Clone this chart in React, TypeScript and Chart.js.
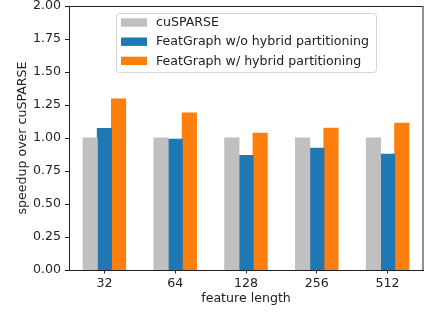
import React, { useEffect, useRef } from "react";
import { Chart, registerables } from "chart.js";

Chart.register(...registerables);

const categories = ["32", "64", "128", "256", "512"];
const cusparse = [1.0, 1.0, 1.0, 1.0, 1.0];
const withoutHybrid = [1.072, 0.99, 0.868, 0.922, 0.876];
const withHybrid = [1.295, 1.19, 1.036, 1.074, 1.112];
const seriesLabels = [
  "cuSPARSE",
  "FeatGraph w/o hybrid partitioning",
  "FeatGraph w/ hybrid partitioning",
];
const seriesColors = ["#c0c0c0", "#1f77b4", "#ff7f0e"];
const yTicks = [0, 0.25, 0.5, 0.75, 1.0, 1.25, 1.5, 1.75, 2.0];

const FONT = "DejaVu Sans";
const FS = 12.6;

const framePlugin = {
  id: "frame",
  afterDraw(chart: any) {
    const { ctx, chartArea } = chart;
    ctx.save();
    ctx.strokeStyle = "#222";
    ctx.lineWidth = 1;
    ctx.strokeRect(
      Math.round(chartArea.left) + 0.5,
      Math.round(chartArea.top) + 0.5,
      Math.round(chartArea.right - chartArea.left) - 0.5,
      Math.round(chartArea.bottom - chartArea.top)
    );
    ctx.restore();
  },
};

const legendPlugin = {
  id: "mplLegend",
  afterDraw(chart: any) {
    const { ctx } = chart;
    const x0 = 116;
    const y0 = 13;
    const w = 260;
    const h = 59;
    ctx.save();
    ctx.fillStyle = "rgba(255,255,255,0.8)";
    ctx.strokeStyle = "#d6d6d6";
    ctx.lineWidth = 1;
    ctx.beginPath();
    const r = 3;
    ctx.moveTo(x0 + r + 0.5, y0 + 0.5);
    ctx.arcTo(x0 + w + 0.5, y0 + 0.5, x0 + w + 0.5, y0 + h + 0.5, r);
    ctx.arcTo(x0 + w + 0.5, y0 + h + 0.5, x0 + 0.5, y0 + h + 0.5, r);
    ctx.arcTo(x0 + 0.5, y0 + h + 0.5, x0 + 0.5, y0 + 0.5, r);
    ctx.arcTo(x0 + 0.5, y0 + 0.5, x0 + w + 0.5, y0 + 0.5, r);
    ctx.closePath();
    ctx.fill();
    ctx.stroke();
    ctx.font = `${FS}px "${FONT}"`;
    ctx.textBaseline = "middle";
    ctx.textAlign = "left";
    chart.data.datasets.forEach((ds: any, i: number) => {
      const cy = 22.5 + i * 19.2;
      ctx.fillStyle = ds.backgroundColor;
      ctx.fillRect(121, cy - 4.2, 26, 8.4);
      ctx.fillStyle = "#222";
      ctx.fillText(ds.label, 156, cy + 0.5);
    });
    ctx.restore();
  },
};

export default function App() {
  const ref = useRef<HTMLCanvasElement | null>(null);
  useEffect(() => {
    if (!ref.current) return;
    const chart = new Chart(ref.current, {
      type: "bar",
      data: {
        labels: categories,
        datasets: [
          { label: seriesLabels[0], data: cusparse, backgroundColor: seriesColors[0] },
          { label: seriesLabels[1], data: withoutHybrid, backgroundColor: seriesColors[1] },
          { label: seriesLabels[2], data: withHybrid, backgroundColor: seriesColors[2] },
        ],
      },
      options: {
        responsive: false,
        animation: false,
        devicePixelRatio: 1,
        datasets: {
          bar: { categoryPercentage: 0.6, barPercentage: 1.0, borderWidth: 0, inflateAmount: 0.5 },
        },
        layout: { padding: { top: 0, right: 15, left: 0, bottom: 0 } },
        plugins: {
          legend: { display: false },
          tooltip: { enabled: false },
        },
        scales: {
          x: {
            offset: true,
            grid: {
              offset: false,
              drawOnChartArea: false,
              drawTicks: true,
              tickLength: 3.5,
              color: "#222",
            },
            border: { display: true, color: "#222", width: 1 },
            ticks: {
              color: "#222",
              padding: 3,
              font: { family: FONT, size: FS },
              maxRotation: 0,
            },
            title: {
              display: true,
              text: "feature length",
              color: "#222",
              font: { family: FONT, size: FS },
              padding: { top: 0, bottom: 7.5 },
            },
            afterFit: (scale: any) => {
              scale.height = 44;
            },
          },
          y: {
            min: 0,
            max: 2,
            afterBuildTicks: (scale: any) => {
              scale.ticks = yTicks.map((v) => ({ value: v }));
            },
            grid: {
              drawOnChartArea: false,
              drawTicks: true,
              tickLength: 4,
              color: "#222",
            },
            border: { display: true, color: "#222", width: 1 },
            ticks: {
              color: "#222",
              padding: 4,
              font: { family: FONT, size: FS },
              callback: (v: any) => Number(v).toFixed(2),
            },
            title: {
              display: true,
              text: "speedup over cuSPARSE",
              color: "#222",
              font: { family: FONT, size: FS },
              padding: { top: 15.5, bottom: 0 },
            },
            afterFit: (scale: any) => {
              scale.width = 69;
              scale.paddingTop = 6;
              scale.paddingBottom = 0;
            },
          },
        },
      },
      plugins: [framePlugin, legendPlugin],
    });
    return () => chart.destroy();
  }, []);
  return (
    <div style={{ position: "absolute", left: 0, top: 0, width: 438, height: 314, background: "#fff" }}>
      <canvas ref={ref} width={438} height={314} />
    </div>
  );
}
